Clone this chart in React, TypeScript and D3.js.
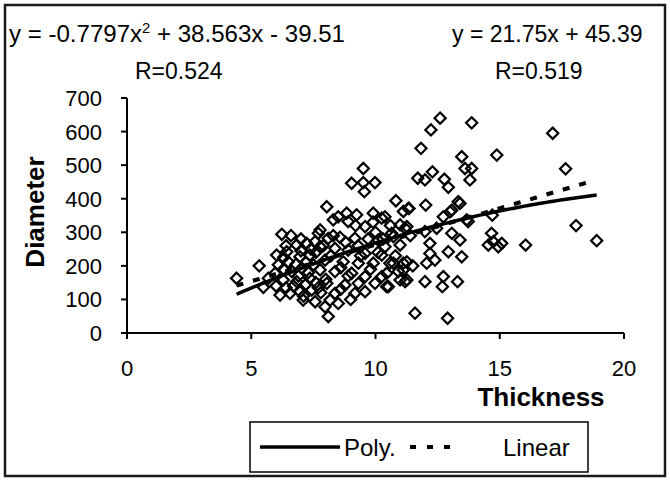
import React from "react";
import * as d3 from "d3";

const thickness: number[] = [
  4.41, 5.32, 5.49, 5.69, 6.23, 6.02, 6.43, 6.83, 7.23, 7.57, 6.09, 6.49, 6.96, 7.36, 7.70, 5.96, 6.63, 7.03, 7.50, 6.29,
  6.83, 7.36, 6.16, 6.56, 6.96, 7.43, 7.09, 7.57, 6.0, 6.4, 6.7, 7.2, 7.6, 7.8, 6.4, 7.0, 7.4, 6.8, 7.2, 6.3,
  9.51, 9.04, 9.51, 9.98, 9.55, 8.04, 10.82, 8.84, 9.24, 9.91, 10.25, 8.30, 11.12, 7.77, 8.90, 9.58, 10.99, 10.65, 8.10, 8.57,
  9.17, 10.11, 10.99, 7.77, 8.37, 8.90, 9.58, 10.25, 7.97, 8.70, 9.31, 9.91, 10.58, 11.12, 7.77, 8.37, 9.04, 9.58, 10.25, 10.92,
  8.04, 8.77, 9.31, 9.98, 10.45, 8.37, 9.17, 9.58, 7.97, 8.50, 8.10, 8.50, 8.17,
  12.60, 12.23, 13.87, 11.83, 13.47, 14.88, 13.60, 13.87, 13.80, 11.70, 11.99, 12.29, 12.77, 12.93, 11.35, 12.02, 13.33, 13.07, 14.70, 12.73,
  13.67, 12.46, 11.26, 11.99, 13.07, 13.40, 12.19, 14.67, 14.74, 14.54, 14.94, 12.93, 12.19, 13.47, 12.39, 12.06, 11.26, 11.26, 11.99, 12.73,
  12.69, 13.30, 11.59, 12.90, 13.73, 13.40, 13.00,
  17.13, 17.65, 18.07, 18.90, 16.04, 15.08,
  11.32, 10.38, 11.19, 10.72, 10.38, 10.72, 11.12, 10.45, 10.99, 10.52, 11.19,
  6.6, 7.0, 7.9, 8.2, 8.6, 8.9, 9.3, 9.7, 10.0, 10.3, 8.0, 8.6, 9.0, 9.8, 10.6, 9.2, 7.3, 6.9, 7.6, 8.3,
  9.4, 10.1, 10.8, 11.4, 11.5, 7.1, 7.7, 8.8, 9.9, 6.3
];

const diameter: number[] = [
  163, 200, 136, 163, 294, 232, 242, 262, 267, 272, 203, 212, 227, 232, 297, 178, 183, 193, 203, 158,
  153, 163, 113, 118, 123, 128, 98, 93, 140, 135, 140, 145, 150, 120, 260, 245, 250, 205, 210, 225,
  490, 446, 448, 448, 421, 376, 394, 357, 352, 357, 342, 337, 362, 307, 332, 317, 322, 297, 282, 285,
  282, 277, 262, 257, 252, 247, 237, 232, 217, 212, 208, 208, 208, 208, 188, 183, 178, 168, 168, 183,
  148, 143, 148, 148, 138, 118, 118, 123, 78, 88, 49, 346, 98,
  640, 605, 626, 550, 525, 530, 490, 490, 456, 461, 456, 480, 458, 434, 371, 381, 391, 366, 351, 346,
  337, 312, 317, 302, 297, 277, 267, 297, 272, 262, 257, 242, 237, 227, 217, 208, 212, 158, 153, 168,
  138, 153, 59, 44, 332, 386, 361,
  595, 489, 320, 275, 262, 267,
  371, 346, 312, 287, 257, 208, 188, 178, 158, 138, 153,
  290, 280, 260, 230, 195, 170, 260, 280, 300, 280, 160, 130, 100, 190, 320, 320, 180, 170, 240, 290,
  230, 240, 230, 290, 200, 110, 135, 270, 330, 190
];

const xTicks: number[] = [0, 5, 10, 15, 20];
const yTicks: number[] = [0, 100, 200, 300, 400, 500, 600, 700];

const polyCoef: number[] = [-0.7797, 38.563, -39.51];
const linCoef: number[] = [21.75, 45.39];

export default function App() {
  const x = d3.scaleLinear().domain([0, 20]).range([127, 624]);
  const y = d3.scaleLinear().domain([0, 700]).range([333, 98]);

  const xMin = d3.min(thickness) as number;
  const xMax = d3.max(thickness) as number;
  const samples = d3.range(0, 101).map((i) => xMin + ((xMax - xMin) * i) / 100);
  const line = d3
    .line<number[]>()
    .x((d) => x(d[0]))
    .y((d) => y(d[1]));
  const polyPts = samples.map((t) => [t, polyCoef[0] * t * t + polyCoef[1] * t + polyCoef[2]]);
  const linPts = samples
    .filter((t) => t <= 18.6)
    .map((t) => [t, linCoef[0] * t + linCoef[1]]);

  const font = "'Liberation Sans', Arial, sans-serif";
  const diamond = d3.symbol().type(d3.symbolDiamond2).size(80)();

  return (
    <svg width={670} height={481} style={{ position: "absolute", left: 0, top: 0 }} fontFamily={font}>
      <rect x={0} y={0} width={670} height={481} fill="#ffffff" />
      <rect x={5} y={5} width={660} height={471} fill="#ffffff" stroke="#1a1a1a" strokeWidth={2.5} />

      {/* equations */}
      <text x={9} y={42} fontSize={23} fill="#000" textLength={336} lengthAdjust="spacingAndGlyphs">
        y = -0.7797x<tspan dy={-9} fontSize={14}>2</tspan>
        <tspan dy={9}> + 38.563x - 39.51</tspan>
      </text>
      <text x={135} y={79} fontSize={23} fill="#000">R=0.524</text>
      <text x={452} y={42} fontSize={23} fill="#000">y = 21.75x + 45.39</text>
      <text x={495} y={79} fontSize={23} fill="#000">R=0.519</text>

      {/* points */}
      {thickness.map((t, i) => (
        <path
          key={i}
          d={diamond as string}
          transform={`translate(${x(t)},${y(diameter[i])})`}
          fill="none"
          stroke="#000"
          strokeWidth={2.2}
        />
      ))}

      {/* trend lines */}
      <path d={line(linPts) as string} fill="none" stroke="#000" strokeWidth={4} strokeDasharray="7 10" />
      <path d={line(polyPts) as string} fill="none" stroke="#000" strokeWidth={3.5} />

      {/* axes */}
      <line x1={x(0)} x2={x(0)} y1={y(700)} y2={y(0) + 6} stroke="#000" strokeWidth={2} />
      <line x1={x(0)} x2={x(20)} y1={y(0)} y2={y(0)} stroke="#000" strokeWidth={2} />
      {yTicks.map((v) => (
        <g key={"y" + v}>
          <line x1={x(0) - 6} x2={x(0)} y1={y(v)} y2={y(v)} stroke="#000" strokeWidth={2} />
          <text x={102} y={y(v) + 8} fontSize={22} textAnchor="end" fill="#000">{v}</text>
        </g>
      ))}
      {xTicks.map((v) => (
        <g key={"x" + v}>
          <line x1={x(v)} x2={x(v)} y1={y(0)} y2={y(0) + 6} stroke="#000" strokeWidth={2} />
          <text x={x(v)} y={376} fontSize={22} textAnchor="middle" fill="#000">{v}</text>
        </g>
      ))}
      <text x={541} y={406} fontSize={26} fontWeight="bold" textAnchor="middle" fill="#000">Thickness</text>
      <text transform="translate(44,212) rotate(-90)" fontSize={26} fontWeight="bold" textAnchor="middle" fill="#000">Diameter</text>

      {/* legend */}
      <rect x={250} y={422} width={338} height={50} fill="#fff" stroke="#000" strokeWidth={1.5} />
      <line x1={260} x2={340} y1={447} y2={447} stroke="#000" strokeWidth={3.5} />
      <text x={344} y={456} fontSize={24} fill="#000">Poly.</text>
      <line x1={410} x2={450} y1={447} y2={447} stroke="#000" strokeWidth={4} strokeDasharray="6 11" />
      <text x={503} y={456} fontSize={24} fill="#000">Linear</text>
    </svg>
  );
}
